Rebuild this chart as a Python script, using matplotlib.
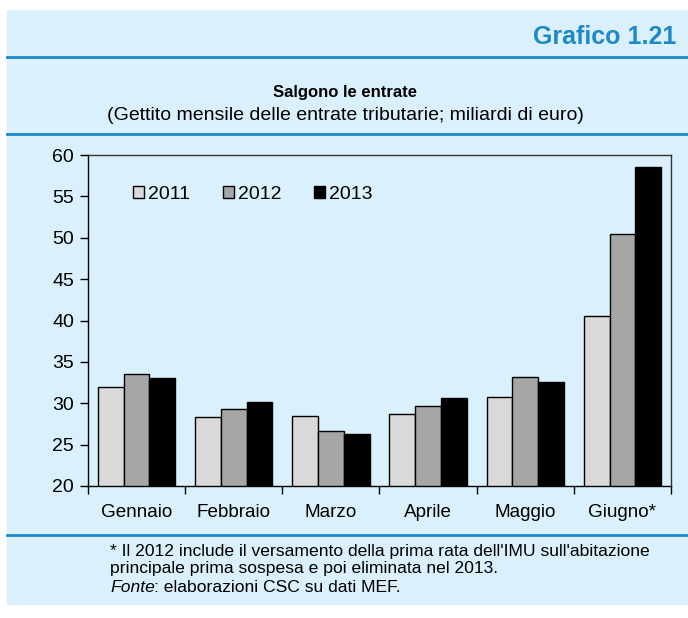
import numpy as np
import matplotlib
matplotlib.use("Agg")
import matplotlib.pyplot as plt
from matplotlib.patches import Rectangle
from matplotlib.lines import Line2D

plt.rcParams["font.family"] = ["Liberation Sans", "DejaVu Sans"]

# Data
months = ["Gennaio", "Febbraio", "Marzo", "Aprile", "Maggio", "Giugno*"]
years = ["2011", "2012", "2013"]
v2011 = [32.0, 28.3, 28.4, 28.7, 30.7, 40.6]
v2012 = [33.5, 29.3, 26.7, 29.7, 33.2, 50.4]
v2013 = [33.1, 30.1, 26.3, 30.6, 32.6, 58.6]
colors = ["#D9D9D9", "#A6A6A6", "#000000"]

bg = "#DAF1FD"
blue = "#1E88C8"

W, H = 688, 618
fig = plt.figure(figsize=(W / 100, H / 100), dpi=100)
fig.patch.set_facecolor("white")

# light blue panel
fig.patches.append(Rectangle((7 / W, 14 / H), 1 - 7 / W, (604 - 10) / H,
                             transform=fig.transFigure, color=bg, zorder=0))

# blue separator lines
for yy in [57, 134, 535]:
    fig.lines.append(Line2D([7 / W, 1], [1 - yy / H, 1 - yy / H],
                            transform=fig.transFigure, color=blue, lw=2))

fig.text(676 / W, 1 - 37 / H, "Grafico 1.21", ha="right", va="center",
         fontsize=18, fontweight="bold", color=blue)
fig.text(345 / W, 1 - 92 / H, "Salgono le entrate", ha="center", va="center",
         fontsize=12, fontweight="bold")
fig.text(345 / W, 1 - 115 / H,
         "(Gettito mensile delle entrate tributarie; miliardi di euro)",
         ha="center", va="center", fontsize=14)

# footnote
foot = ("* Il 2012 include il versamento della prima rata dell'IMU sull'abitazione\n"
        "principale prima sospesa e poi eliminata nel 2013.")
fig.text(110 / W, 1 - 544 / H, foot, ha="left", va="top", fontsize=12.6,
         linespacing=1.15)
t = fig.text(110 / W, 1 - 588 / H, "Fonte", ha="left", va="center",
             fontsize=12.6, style="italic")
bb = t.get_window_extent(renderer=fig.canvas.get_renderer())
fig.text((bb.x1 - 1) / W, 1 - 588 / H, ": elaborazioni CSC su dati MEF.",
         ha="left", va="center", fontsize=12.6)

# chart
ax = fig.add_axes([88 / W, 1 - 486 / H, (671 - 88) / W, (486 - 155) / H])
ax.set_zorder(2)
ax.set_facecolor(bg)

x = np.arange(len(months))
w = 0.265
for i, (vals, c, lab) in enumerate(zip([v2011, v2012, v2013], colors, years)):
    ax.bar(x + (i - 1) * w, np.array(vals) - 20, width=w, bottom=20, color=c,
           edgecolor="black", linewidth=1, label=lab, zorder=3)

ax.set_ylim(20, 60)
ax.set_xlim(-0.5, 5.5)
ax.set_yticks(range(20, 61, 5))
ax.set_xticks(x)
ax.set_xticklabels(months)
ax.set_xticks(np.arange(-0.5, 6, 1), minor=True)
ax.tick_params(axis="x", which="major", length=0, pad=13, labelsize=13.6)
ax.tick_params(axis="x", which="minor", length=6, width=1, direction="out")
ax.tick_params(axis="y", length=6, width=1, direction="out", labelsize=14, pad=4)

for s in ["left", "bottom"]:
    ax.spines[s].set_color("black")
    ax.spines[s].set_linewidth(1)
for s in ["top", "right"]:
    ax.spines[s].set_color("#333333")
    ax.spines[s].set_linewidth(1)

ax.legend(loc="upper left", bbox_to_anchor=(0.048, 0.96), ncol=3,
          frameon=False, fontsize=14, handlelength=0.55, handleheight=0.55,
          handletextpad=0.2, columnspacing=1.7)

fig.savefig("out.png", dpi=100, facecolor=fig.get_facecolor())
